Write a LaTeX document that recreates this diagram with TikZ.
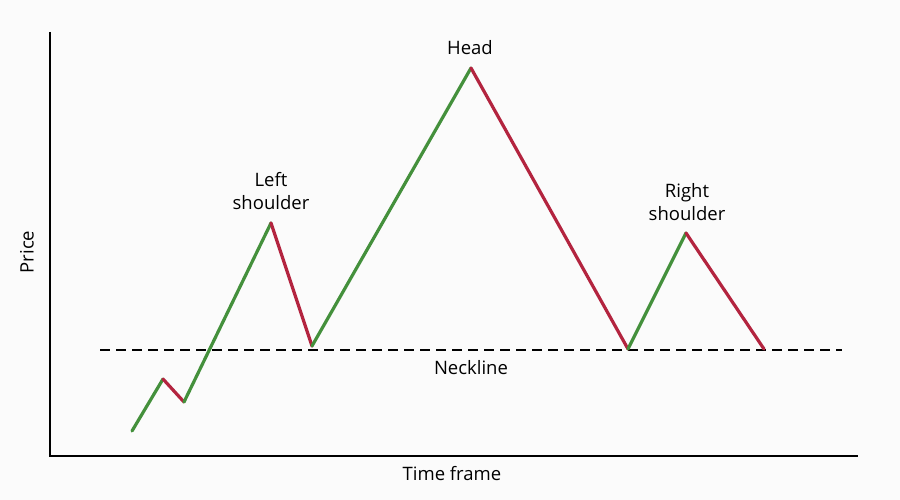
\documentclass[tikz,border=0pt]{standalone}
\usepackage{fontspec}
\setmainfont{Open Sans}
\definecolor{upc}{HTML}{44903C}
\definecolor{downc}{HTML}{B3243F}
\definecolor{bgc}{HTML}{FBFBFB}
\tikzset{
  up/.style={draw=upc,line width=3.2pt,line cap=round},
  down/.style={draw=downc,line width=3.2pt,line cap=round},
  axis/.style={draw=black,line width=2.6pt},
  lbl/.style={font=\fontsize{18.5}{23}\selectfont,align=center,text=black,inner sep=0pt},
}
\begin{document}
\begin{tikzpicture}[x=1pt,y=-1pt]
\fill[bgc] (0,0) rectangle (900,500);
\useasboundingbox (0,0) rectangle (900,500);
% axes
\coordinate (ytop) at (50,32);
\coordinate (origin) at (50,456);
\coordinate (xend) at (858,456);
\draw[axis] (ytop) -- (origin) -- (xend);
% neckline
\coordinate (nl) at (100,350);
\coordinate (nr) at (842,350);
\draw[black,line width=2.2pt,dash pattern=on 10pt off 6pt] (nl) -- (nr);
% points
\coordinate (p0) at (132,431);
\coordinate (p1) at (163,379);
\coordinate (p2) at (184,402);
\coordinate (p3) at (271,223);
\coordinate (p4) at (312,346);
\coordinate (p5) at (471,68);
\coordinate (p6) at (628,349);
\coordinate (p7) at (686,233);
\coordinate (p8) at (764,349);
\draw[up] (p0) -- (p1);
\draw[down] (p1) -- (p2);
\draw[up] (p2) -- (p3);
\draw[down] (p3) -- (p4);
\draw[up] (p4) -- (p5);
\draw[down] (p5) -- (p6);
\draw[up] (p6) -- (p7);
\draw[down] (p7) -- (p8);
% labels
\node[lbl] (head) at (470,48) {Head};
\node[lbl] (ls) at (271,191) {Left\\shoulder};
\node[lbl] (rs) at (687,202) {Right\\shoulder};
\node[lbl] (neck) at (471,368) {Neckline};
\node[lbl] (time) at (452,474) {Time frame};
\node[lbl,rotate=90] (price) at (27,252) {Price};
\end{tikzpicture}
\end{document}
